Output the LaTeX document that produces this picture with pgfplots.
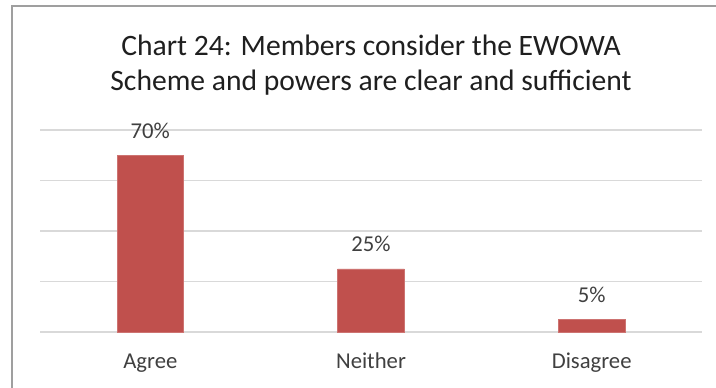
\documentclass[border=0pt]{standalone}
\usepackage{pgfplots}
\pgfplotsset{compat=1.18}
\usepackage{fontspec}
\setmainfont{Carlito}
\definecolor{barred}{HTML}{C0504D}
\definecolor{gridc}{HTML}{D9D9D9}
\definecolor{txt}{HTML}{404040}
\definecolor{ttl}{HTML}{1F1F1F}
\begin{document}
\begin{tikzpicture}
\useasboundingbox (-30pt,-41.25pt) rectangle (507pt,249pt);
\fill[white] (-30pt,-41.25pt) rectangle (507pt,249pt);
\begin{axis}[
  at={(0,0)}, anchor=south west,
  scale only axis, width=496.5pt, height=151.5pt,
  xmin=-0.5, xmax=2.5, ymin=0, ymax=80,
  xtick=data, xticklabels={Agree,Neither,Disagree},
  ytick={0,20,40,60,80}, yticklabels={},
  major tick length=0pt,
  axis line style={draw=none},
  ymajorgrids, grid style={gridc, line width=1pt},
  ybar, bar width=50pt,
  xticklabel style={anchor=base, yshift=-27pt, font=\fontsize{17}{20}\selectfont, text=txt},
  nodes near coords={\pgfmathprintnumber{\pgfplotspointmeta}\%},
  every node near coord/.append style={anchor=base, yshift=12.75pt, font=\fontsize{17}{20}\selectfont, text=txt},
  /pgf/number format/assume math mode=true,
  clip=false,
]
\addplot[fill=barred, draw=barred!80!white] coordinates {(0,70) (1,25) (2,5)};
\end{axis}
\draw[gray!75, line width=1.5pt] (-21pt,-45pt) -- (-21pt,244.5pt) -- (510pt,244.5pt);
\node[anchor=base, text=ttl, font=\fontsize{22.2}{26}\selectfont] at (248.25pt,207.75pt) {Chart 24: Members consider the EWOWA};
\node[anchor=base, text=ttl, font=\fontsize{22.2}{26}\selectfont] at (248.25pt,181pt) {Scheme and powers are clear and sufficient};
\end{tikzpicture}
\end{document}
